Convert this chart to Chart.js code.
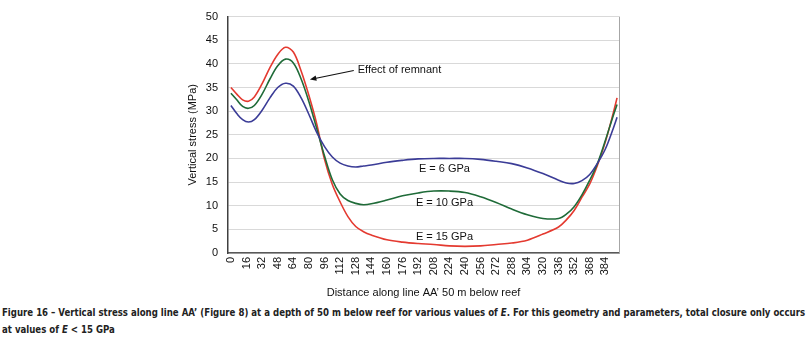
<!DOCTYPE html>
<html>
<head>
<meta charset="utf-8">
<script src="https://cdn.jsdelivr.net/npm/chart.js@4"></script>
<style>
body { margin: 0; background: #fff; width: 810px; height: 342px; overflow: hidden; position: relative; }
#wrap { position: absolute; left: 0; top: 0; width: 810px; height: 300px; }
.cap { position: absolute; left: 2px; font-family: "Liberation Sans Narrow", "DejaVu Sans Condensed", sans-serif; font-size: 11px; font-weight: bold; color: #222; white-space: nowrap; transform-origin: 0 0; }
</style>
</head>
<body>
<div id="wrap"><canvas id="myChart" width="810" height="300"></canvas></div>
<div class="cap" id="cap1" style="top:306px">Figure 16 – Vertical stress along line AA’ (Figure 8) at a depth of 50 m below reef for various values of <i>E</i>. For this geometry and parameters, total closure only occurs</div>
<div class="cap" id="cap2" style="top:323px">at values of <i>E</i> &lt; 15 GPa</div>
<script>
// Abstand entlang AA' (m)
const distance = [0, 6, 12, 18, 24, 32, 40, 48, 56, 64, 72, 80, 88, 96, 104, 112, 120, 128, 136, 144, 160, 176, 192, 208, 224, 240, 256, 272, 288, 304, 320, 336, 344, 352, 360, 368, 376, 384, 392, 396];
const stress_E6 = [31.2, 29.5, 28.2, 27.7, 28.2, 30.2, 32.8, 35.0, 35.9, 35.3, 32.8, 29.3, 25.5, 22.5, 20.3, 19.0, 18.4, 18.2, 18.4, 18.6, 19.2, 19.6, 19.9, 20.0, 20.0, 20.0, 19.8, 19.4, 18.9, 18.0, 16.8, 15.4, 14.8, 14.7, 15.3, 16.6, 19.0, 22.0, 26.3, 28.7];
const stress_E10 = [33.8, 32.4, 31.0, 30.6, 31.2, 33.6, 36.8, 39.6, 41.0, 40.2, 36.8, 32.0, 26.3, 20.5, 15.5, 12.5, 11.1, 10.5, 10.2, 10.4, 11.2, 12.1, 12.7, 13.1, 13.1, 12.8, 11.9, 10.7, 9.3, 8.1, 7.3, 7.3, 8.2, 9.8, 12.3, 15.4, 19.0, 23.8, 29.0, 31.4];
const stress_E15 = [35.0, 33.6, 32.4, 32.1, 33.0, 35.8, 39.2, 42.0, 43.5, 42.5, 38.5, 33.3, 27.3, 19.8, 14.5, 10.8, 7.7, 5.6, 4.5, 3.8, 2.8, 2.3, 2.0, 1.8, 1.5, 1.4, 1.5, 1.8, 2.1, 2.7, 4.0, 5.5, 7.0, 9.0, 11.8, 14.6, 18.6, 23.5, 29.5, 32.8];
const xTickLabels = [0, 16, 32, 48, 64, 80, 96, 112, 128, 144, 160, 176, 192, 208, 224, 240, 256, 272, 288, 304, 320, 336, 352, 368, 384];
const yTickLabels = [0, 5, 10, 15, 20, 25, 30, 35, 40, 45, 50];
const seriesLabels = ['E = 6 GPa', 'E = 10 GPa', 'E = 15 GPa'];
const seriesColors = ['#3b3c97', '#1f6b38', '#e43a30'];

const tickFont = { family: "'Liberation Sans', Arial, sans-serif", size: 11 };

function toPoints(arr) {
return arr.map((v, i) => ({ x: distance[i], y: v }));
}

// Beschriftungen im Diagramm
const annotationPlugin = {
id: 'annotations',
afterDatasetsDraw(chart) {
const ctx = chart.ctx;
const xs = chart.scales.x;
const ys = chart.scales.y;
ctx.save();
ctx.fillStyle = '#111';
ctx.font = "11px 'Liberation Sans', Arial, sans-serif";
ctx.textBaseline = 'middle';
// Effect of remnant
ctx.textAlign = 'left';
ctx.fillText('Effect of remnant', xs.getPixelForValue(130), ys.getPixelForValue(38.8));
const x1 = xs.getPixelForValue(126), y1 = ys.getPixelForValue(38.6);
const x2 = xs.getPixelForValue(81), y2 = ys.getPixelForValue(36.7);
ctx.strokeStyle = '#111';
ctx.lineWidth = 1.2;
ctx.beginPath();
ctx.moveTo(x1, y1);
ctx.lineTo(x2 + 5, y2 - 1);
ctx.stroke();
const ang = Math.atan2(y2 - y1, x2 - x1);
ctx.beginPath();
ctx.moveTo(x2, y2);
ctx.lineTo(x2 - 7 * Math.cos(ang - 0.4), y2 - 7 * Math.sin(ang - 0.4));
ctx.lineTo(x2 - 7 * Math.cos(ang + 0.4), y2 - 7 * Math.sin(ang + 0.4));
ctx.closePath();
ctx.fill();
// Serienbeschriftungen
ctx.textAlign = 'center';
ctx.fillText(seriesLabels[0], xs.getPixelForValue(219), ys.getPixelForValue(17.7));
ctx.fillText(seriesLabels[1], xs.getPixelForValue(219), ys.getPixelForValue(10.6));
ctx.fillText(seriesLabels[2], xs.getPixelForValue(219), ys.getPixelForValue(3.3));
// Rahmen rechts
ctx.strokeStyle = '#a6a6a6';
ctx.lineWidth = 1;
ctx.beginPath();
ctx.moveTo(chart.chartArea.right + 0.5, chart.chartArea.top);
ctx.lineTo(chart.chartArea.right + 0.5, chart.chartArea.bottom);
ctx.stroke();
ctx.restore();
}
};

const config = {
type: 'line',
data: {
datasets: [stress_E6, stress_E10, stress_E15].map((arr, i) => ({
label: seriesLabels[i],
data: toPoints(arr),
borderColor: seriesColors[i],
borderWidth: 1.6,
pointRadius: 0,
fill: false,
tension: 0.35
}))
},
options: {
animation: false,
responsive: false,
layout: { padding: { left: 178, right: 191, top: 7, bottom: 0 } },
scales: {
x: {
type: 'linear',
min: -3,
max: 398,
afterBuildTicks: function(axis) {
axis.ticks = xTickLabels.map(v => ({ value: v }));
},
afterFit: function(axis) { axis.height = 47; },
grid: { display: false, drawTicks: false },
border: { color: '#595959', width: 1.5 },
ticks: {
autoSkip: false,
minRotation: 90,
maxRotation: 90,
padding: 4,
color: '#111',
font: tickFont,
callback: function(value) { return value; }
},
title: {
display: true,
text: 'Distance along line AA’ 50 m below reef',
color: '#111',
font: tickFont,
padding: { top: 0, bottom: 0 }
}
},
y: {
min: 0,
max: 50,
afterBuildTicks: function(axis) {
axis.ticks = yTickLabels.map(v => ({ value: v }));
},
afterFit: function(axis) { axis.width = 50; },
grid: { color: '#d9d9d9', drawTicks: false },
border: { color: '#404040', width: 1.5 },
ticks: {
padding: 10,
color: '#111',
font: tickFont
},
title: {
display: true,
text: 'Vertical stress (MPa)',
color: '#111',
font: tickFont,
padding: { top: 8, bottom: 0 }
}
}
},
plugins: {
legend: { display: false },
tooltip: { enabled: false }
}
},
plugins: [annotationPlugin]
};

new Chart(document.getElementById('myChart'), config);

// Bildunterschrift auf Breite bringen
const cap1 = document.getElementById('cap1');
const cap2 = document.getElementById('cap2');
const s = 803 / cap1.getBoundingClientRect().width;
cap1.style.transform = 'scaleX(' + s + ')';
cap2.style.transform = 'scaleX(' + s + ')';
</script>
</body>
</html>
